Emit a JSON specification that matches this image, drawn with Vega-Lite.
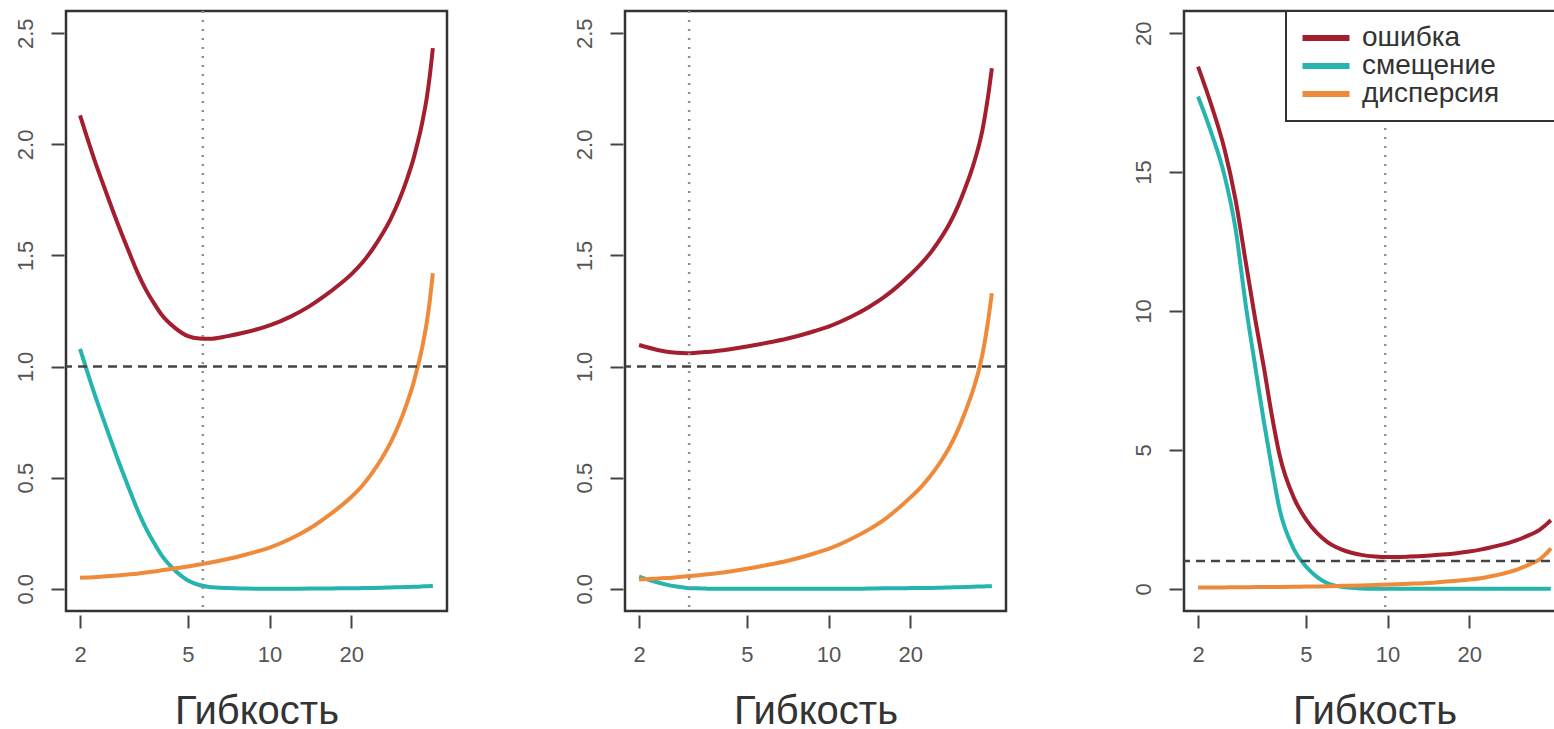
{
  "$schema": "https://vega.github.io/schema/vega-lite/v6.json",
  "background": "white",
  "padding": {"left": 12, "top": 8, "right": 0, "bottom": 0},
  "autosize": {"type": "pad"},
  "spacing": 121,
  "datasets": {
    "p1": [
      {"x": 2, "ошибка": 2.13, "смещение": 1.08, "дисперсия": 0.05},
      {"x": 2.25, "ошибка": 1.937, "смещение": 0.885, "дисперсия": 0.052},
      {"x": 2.5, "ошибка": 1.781, "смещение": 0.725, "дисперсия": 0.056},
      {"x": 2.75, "ошибка": 1.645, "смещение": 0.585, "дисперсия": 0.06},
      {"x": 3, "ошибка": 1.529, "смещение": 0.465, "дисперсия": 0.064},
      {"x": 3.25, "ошибка": 1.426, "смещение": 0.358, "дисперсия": 0.068},
      {"x": 3.5, "ошибка": 1.345, "смещение": 0.272, "дисперсия": 0.073},
      {"x": 3.75, "ошибка": 1.284, "смещение": 0.206, "дисперсия": 0.078},
      {"x": 4, "ошибка": 1.233, "смещение": 0.15, "дисперсия": 0.083},
      {"x": 4.5, "ошибка": 1.172, "смещение": 0.08, "дисперсия": 0.092},
      {"x": 5, "ошибка": 1.137, "смещение": 0.037, "дисперсия": 0.1},
      {"x": 5.5, "ошибка": 1.126, "смещение": 0.017, "дисперсия": 0.109},
      {"x": 6, "ошибка": 1.125, "смещение": 0.008, "дисперсия": 0.117},
      {"x": 7, "ошибка": 1.137, "смещение": 0.003, "дисперсия": 0.134},
      {"x": 8, "ошибка": 1.152, "смещение": 0.001, "дисперсия": 0.151},
      {"x": 9, "ошибка": 1.168, "смещение": 0.0, "дисперсия": 0.168},
      {"x": 10, "ошибка": 1.185, "смещение": 0.0, "дисперсия": 0.185},
      {"x": 12, "ошибка": 1.226, "смещение": 0.0, "дисперсия": 0.226},
      {"x": 14, "ошибка": 1.271, "смещение": 0.001, "дисперсия": 0.27},
      {"x": 16, "ошибка": 1.319, "смещение": 0.001, "дисперсия": 0.318},
      {"x": 18, "ошибка": 1.367, "смещение": 0.002, "дисперсия": 0.365},
      {"x": 20, "ошибка": 1.415, "смещение": 0.002, "дисперсия": 0.413},
      {"x": 22, "ошибка": 1.468, "смещение": 0.003, "дисперсия": 0.465},
      {"x": 24, "ошибка": 1.529, "смещение": 0.004, "дисперсия": 0.525},
      {"x": 26, "ошибка": 1.595, "смещение": 0.005, "дисперсия": 0.59},
      {"x": 28, "ошибка": 1.666, "смещение": 0.006, "дисперсия": 0.66},
      {"x": 30, "ошибка": 1.747, "смещение": 0.007, "дисперсия": 0.74},
      {"x": 32, "ошибка": 1.838, "смещение": 0.008, "дисперсия": 0.83},
      {"x": 34, "ошибка": 1.939, "смещение": 0.009, "дисперсия": 0.93},
      {"x": 35, "ошибка": 1.999, "смещение": 0.009, "дисперсия": 0.99},
      {"x": 36, "ошибка": 2.06, "смещение": 0.01, "дисперсия": 1.05},
      {"x": 37, "ошибка": 2.131, "смещение": 0.011, "дисперсия": 1.12},
      {"x": 38, "ошибка": 2.211, "смещение": 0.011, "дисперсия": 1.2},
      {"x": 39, "ошибка": 2.312, "смещение": 0.012, "дисперсия": 1.3},
      {"x": 40, "ошибка": 2.433, "смещение": 0.013, "дисперсия": 1.42}
    ],
    "p2": [
      {"x": 2, "ошибка": 1.097, "смещение": 0.055, "дисперсия": 0.042},
      {"x": 2.25, "ошибка": 1.08, "смещение": 0.035, "дисперсия": 0.045},
      {"x": 2.5, "ошибка": 1.068, "смещение": 0.02, "дисперсия": 0.048},
      {"x": 2.75, "ошибка": 1.062, "смещение": 0.01, "дисперсия": 0.052},
      {"x": 3, "ошибка": 1.06, "смещение": 0.004, "дисперсия": 0.056},
      {"x": 3.25, "ошибка": 1.062, "смещение": 0.002, "дисперсия": 0.06},
      {"x": 3.5, "ошибка": 1.065, "смещение": 0.001, "дисперсия": 0.064},
      {"x": 3.75, "ошибка": 1.068, "смещение": 0.0, "дисперсия": 0.068},
      {"x": 4, "ошибка": 1.072, "смещение": 0.0, "дисперсия": 0.072},
      {"x": 4.5, "ошибка": 1.081, "смещение": 0.0, "дисперсия": 0.081},
      {"x": 5, "ошибка": 1.09, "смещение": 0.0, "дисперсия": 0.09},
      {"x": 5.5, "ошибка": 1.099, "смещение": 0.0, "дисперсия": 0.099},
      {"x": 6, "ошибка": 1.108, "смещение": 0.0, "дисперсия": 0.108},
      {"x": 7, "ошибка": 1.125, "смещение": 0.0, "дисперсия": 0.125},
      {"x": 8, "ошибка": 1.143, "смещение": 0.0, "дисперсия": 0.143},
      {"x": 9, "ошибка": 1.162, "смещение": 0.0, "дисперсия": 0.162},
      {"x": 10, "ошибка": 1.18, "смещение": 0.0, "дисперсия": 0.18},
      {"x": 12, "ошибка": 1.222, "смещение": 0.0, "дисперсия": 0.222},
      {"x": 14, "ошибка": 1.266, "смещение": 0.001, "дисперсия": 0.265},
      {"x": 16, "ошибка": 1.312, "смещение": 0.002, "дисперсия": 0.31},
      {"x": 18, "ошибка": 1.362, "смещение": 0.002, "дисперсия": 0.36},
      {"x": 20, "ошибка": 1.413, "смещение": 0.003, "дисперсия": 0.41},
      {"x": 22, "ошибка": 1.464, "смещение": 0.004, "дисперсия": 0.46},
      {"x": 24, "ошибка": 1.519, "смещение": 0.004, "дисперсия": 0.515},
      {"x": 26, "ошибка": 1.58, "смещение": 0.005, "дисперсия": 0.575},
      {"x": 28, "ошибка": 1.646, "смещение": 0.006, "дисперсия": 0.64},
      {"x": 30, "ошибка": 1.722, "смещение": 0.007, "дисперсия": 0.715},
      {"x": 32, "ошибка": 1.808, "смещение": 0.008, "дисперсия": 0.8},
      {"x": 34, "ошибка": 1.899, "смещение": 0.009, "дисперсия": 0.89},
      {"x": 35, "ошибка": 1.95, "смещение": 0.01, "дисперсия": 0.94},
      {"x": 36, "ошибка": 2.005, "смещение": 0.01, "дисперсия": 0.995},
      {"x": 37, "ошибка": 2.07, "смещение": 0.01, "дисперсия": 1.06},
      {"x": 38, "ошибка": 2.151, "смещение": 0.011, "дисперсия": 1.14},
      {"x": 39, "ошибка": 2.241, "смещение": 0.011, "дисперсия": 1.23},
      {"x": 40, "ошибка": 2.342, "смещение": 0.012, "дисперсия": 1.33}
    ],
    "p3": [
      {"x": 2, "ошибка": 18.8, "смещение": 17.72, "дисперсия": 0.05},
      {"x": 2.25, "ошибка": 17.35, "смещение": 16.35, "дисперсия": 0.05},
      {"x": 2.5, "ошибка": 15.85, "смещение": 14.9, "дисперсия": 0.05},
      {"x": 2.75, "ошибка": 14.0, "смещение": 12.95, "дисперсия": 0.055},
      {"x": 3, "ошибка": 11.75, "смещение": 10.2, "дисперсия": 0.055},
      {"x": 3.25, "ошибка": 9.7, "смещение": 8.0, "дисперсия": 0.06},
      {"x": 3.5, "ошибка": 7.95, "смещение": 6.0, "дисперсия": 0.06},
      {"x": 3.75, "ошибка": 6.2, "смещение": 4.3, "дисперсия": 0.065},
      {"x": 4, "ошибка": 4.8, "смещение": 2.85, "дисперсия": 0.065},
      {"x": 4.5, "ошибка": 3.3, "смещение": 1.45, "дисперсия": 0.07},
      {"x": 5, "ошибка": 2.5, "смещение": 0.8, "дисперсия": 0.08},
      {"x": 5.5, "ошибка": 2.0, "смещение": 0.42, "дисперсия": 0.085},
      {"x": 6, "ошибка": 1.68, "смещение": 0.2, "дисперсия": 0.09},
      {"x": 7, "ошибка": 1.36, "смещение": 0.05, "дисперсия": 0.105},
      {"x": 8, "ошибка": 1.22, "смещение": 0.01, "дисперсия": 0.12},
      {"x": 9, "ошибка": 1.16, "смещение": 0.0, "дисперсия": 0.135},
      {"x": 10, "ошибка": 1.14, "смещение": 0.0, "дисперсия": 0.15},
      {"x": 12, "ошибка": 1.16, "смещение": 0.0, "дисперсия": 0.18},
      {"x": 14, "ошибка": 1.19, "смещение": 0.0, "дисперсия": 0.21},
      {"x": 16, "ошибка": 1.23, "смещение": 0.0, "дисперсия": 0.25},
      {"x": 18, "ошибка": 1.28, "смещение": 0.0, "дисперсия": 0.29},
      {"x": 20, "ошибка": 1.34, "смещение": 0.0, "дисперсия": 0.33},
      {"x": 22, "ошибка": 1.41, "смещение": 0.0, "дисперсия": 0.38},
      {"x": 24, "ошибка": 1.49, "смещение": 0.0, "дисперсия": 0.45},
      {"x": 26, "ошибка": 1.57, "смещение": 0.0, "дисперсия": 0.52},
      {"x": 28, "ошибка": 1.65, "смещение": 0.0, "дисперсия": 0.6},
      {"x": 30, "ошибка": 1.75, "смещение": 0.0, "дисперсия": 0.69},
      {"x": 32, "ошибка": 1.86, "смещение": 0.0, "дисперсия": 0.8},
      {"x": 34, "ошибка": 1.97, "смещение": 0.0, "дисперсия": 0.91},
      {"x": 36, "ошибка": 2.09, "смещение": 0.0, "дисперсия": 1.03},
      {"x": 37, "ошибка": 2.18, "смещение": 0.0, "дисперсия": 1.12},
      {"x": 38, "ошибка": 2.27, "смещение": 0.0, "дисперсия": 1.22},
      {"x": 39, "ошибка": 2.37, "смещение": 0.0, "дисперсия": 1.33},
      {"x": 40, "ошибка": 2.47, "смещение": 0.0, "дисперсия": 1.46}
    ]
  },
  "hconcat": [
    {
      "width": 381,
      "height": 600,
      "layer": [
        {
          "data": {"name": "p1"},
          "transform": [{"fold": ["ошибка", "смещение", "дисперсия"], "as": ["series", "value"]}],
          "mark": {"type": "line", "strokeWidth": 4, "interpolate": "monotone"},
          "encoding": {
            "x": {"field": "x", "type": "quantitative", "title": "Гибкость",
                  "scale": {"type": "log", "domain": [1.775, 45.1], "nice": false},
                  "axis": {"values": [2, 5, 10, 20], "format": "d"}},
            "y": {"field": "value", "type": "quantitative", "title": null,
                  "scale": {"domain": [-0.1, 2.6], "nice": false, "zero": false},
                  "axis": {"values": [0, 0.5, 1, 1.5, 2, 2.5], "format": ".1f"}},
            "color": {"field": "series", "type": "nominal",
                      "scale": {"domain": ["ошибка", "смещение", "дисперсия"], "range": ["#A31F2F", "#25B4AE", "#F08A3B"]},
                      "legend": null}
          }
        },
        {
          "data": {"values": [{"value": 1}]},
          "mark": {"type": "rule", "color": "#444444", "strokeWidth": 2.5, "strokeDash": [9, 6]},
          "encoding": {"y": {"field": "value", "type": "quantitative", "title": null}}
        },
        {
          "data": {"values": [{"x": 5.67}]},
          "mark": {"type": "rule", "color": "#8f8f8f", "strokeWidth": 2.5, "strokeDash": [2, 7]},
          "encoding": {"x": {"field": "x", "type": "quantitative", "title": "Гибкость"}}
        }
      ]
    },
    {
      "width": 381,
      "height": 600,
      "layer": [
        {
          "data": {"name": "p2"},
          "transform": [{"fold": ["ошибка", "смещение", "дисперсия"], "as": ["series", "value"]}],
          "mark": {"type": "line", "strokeWidth": 4, "interpolate": "monotone"},
          "encoding": {
            "x": {"field": "x", "type": "quantitative", "title": "Гибкость",
                  "scale": {"type": "log", "domain": [1.775, 45.1], "nice": false},
                  "axis": {"values": [2, 5, 10, 20], "format": "d"}},
            "y": {"field": "value", "type": "quantitative", "title": null,
                  "scale": {"domain": [-0.1, 2.6], "nice": false, "zero": false},
                  "axis": {"values": [0, 0.5, 1, 1.5, 2, 2.5], "format": ".1f"}},
            "color": {"field": "series", "type": "nominal",
                      "scale": {"domain": ["ошибка", "смещение", "дисперсия"], "range": ["#A31F2F", "#25B4AE", "#F08A3B"]},
                      "legend": null}
          }
        },
        {
          "data": {"values": [{"value": 1}]},
          "mark": {"type": "rule", "color": "#444444", "strokeWidth": 2.5, "strokeDash": [9, 6]},
          "encoding": {"y": {"field": "value", "type": "quantitative", "title": null}}
        },
        {
          "data": {"values": [{"x": 3.06}]},
          "mark": {"type": "rule", "color": "#8f8f8f", "strokeWidth": 2.5, "strokeDash": [2, 7]},
          "encoding": {"x": {"field": "x", "type": "quantitative", "title": "Гибкость"}}
        }
      ]
    },
    {
      "width": 381,
      "height": 600,
      "layer": [
        {
          "data": {"name": "p3"},
          "transform": [{"fold": ["ошибка", "смещение", "дисперсия"], "as": ["series", "value"]}],
          "mark": {"type": "line", "strokeWidth": 4, "interpolate": "monotone"},
          "encoding": {
            "x": {"field": "x", "type": "quantitative", "title": "Гибкость",
                  "scale": {"type": "log", "domain": [1.775, 45.1], "nice": false},
                  "axis": {"values": [2, 5, 10, 20], "format": "d"}},
            "y": {"field": "value", "type": "quantitative", "title": null,
                  "scale": {"domain": [-0.8, 20.8], "nice": false, "zero": false},
                  "axis": {"values": [0, 5, 10, 15, 20], "format": "d"}},
            "color": {"field": "series", "type": "nominal",
                      "scale": {"domain": ["ошибка", "смещение", "дисперсия"], "range": ["#A31F2F", "#25B4AE", "#F08A3B"]},
                      "legend": {
                        "orient": "none",
                        "legendX": 102,
                        "legendY": 0,
                        "title": null,
                        "padding": 13,
                        "strokeColor": "#333333",
                        "fillColor": "white",
                        "symbolType": "M-2.35,0H2.35M25,0H25",
                        "symbolSize": 400,
                        "symbolStrokeWidth": 6,
                        "symbolOffset": 13,
                        "labelOffset": 22,
                        "labelFontSize": 28,
                        "labelColor": "#333333",
                        "labelLimit": 0,
                        "rowPadding": 0
                      }}
          }
        },
        {
          "data": {"values": [{"value": 1}]},
          "mark": {"type": "rule", "color": "#444444", "strokeWidth": 2.5, "strokeDash": [9, 6]},
          "encoding": {"y": {"field": "value", "type": "quantitative", "title": null}}
        },
        {
          "data": {"values": [{"x": 9.8}]},
          "mark": {"type": "rule", "color": "#8f8f8f", "strokeWidth": 2.5, "strokeDash": [2, 7]},
          "encoding": {"x": {"field": "x", "type": "quantitative", "title": "Гибкость"}}
        }
      ]
    }
  ],
  "resolve": {
    "scale": {"x": "independent", "y": "independent", "color": "independent"},
    "legend": {"color": "independent"}
  },
  "config": {
    "font": "Liberation Sans",
    "view": {"stroke": "#333333", "strokeWidth": 2.5},
    "legend": {"strokeWidth": 2},
    "axis": {"grid": false, "domain": false, "labelFlush": false, "labelOverlap": false},
    "axisX": {
      "offset": 4, "tickSize": 13, "tickWidth": 2, "tickColor": "#444444",
      "labelFontSize": 22, "labelColor": "#555555", "labelPadding": 16,
      "titleFontSize": 40, "titleFontWeight": "normal", "titleColor": "#333333", "titlePadding": 26
    },
    "axisY": {
      "offset": 2, "tickSize": 13, "tickWidth": 2, "tickColor": "#444444",
      "labelFontSize": 22, "labelColor": "#555555", "labelPadding": 14,
      "labelAngle": 270, "labelAlign": "center", "labelBaseline": "bottom"
    }
  }
}
